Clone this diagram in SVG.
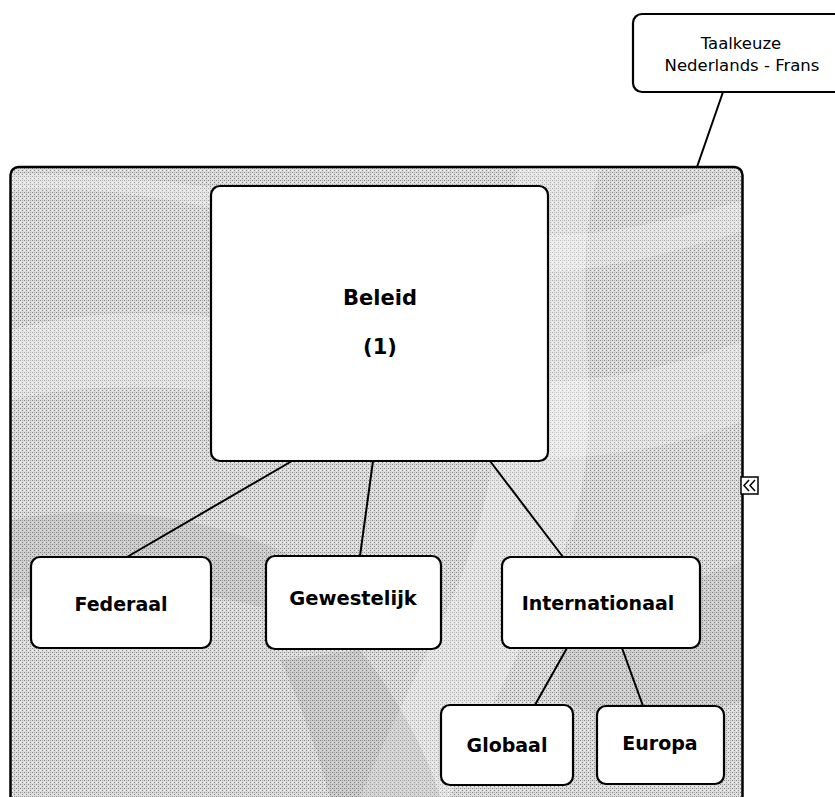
<svg xmlns="http://www.w3.org/2000/svg" width="835" height="797" viewBox="0 0 835 797">
  <style>
    .node rect { fill: #ffffff; stroke: #000000; stroke-width: 2.2; }
    .lbl { font-family: "DejaVu Sans", Verdana, sans-serif; font-weight: bold; fill: #000; text-anchor: middle; }
    .note { font-family: "DejaVu Sans", Verdana, sans-serif; font-size: 16.5px; fill: #000; text-anchor: middle; }
    .conn line { stroke: #000; stroke-width: 2; }
  </style>
  <defs>
    <pattern id="dither" width="4" height="4" patternUnits="userSpaceOnUse">
      <rect width="4" height="4" fill="#dcdcdc"/>
      <rect x="0" y="0" width="1" height="1" fill="#8a8a8a"/>
      <rect x="2" y="2" width="1" height="1" fill="#8a8a8a"/>
      <rect x="2" y="0" width="1" height="1" fill="#b0b0b0"/>
      <rect x="0" y="2" width="1" height="1" fill="#f4f4f4"/>
    </pattern>
    <clipPath id="frameClip">
      <rect x="10.5" y="167" width="732" height="660" rx="8"/>
    </clipPath>
  </defs>
  <rect width="835" height="797" fill="#ffffff"/>

  <!-- background frame -->
  <g id="frame">
    <rect x="10.5" y="167" width="732" height="660" rx="8" fill="url(#dither)"/>
    <g clip-path="url(#frameClip)">
      <path d="M10 330 C 120 300, 260 310, 400 360 C 520 400, 640 380, 745 340 L 745 420 C 620 470, 480 470, 340 420 C 220 380, 100 380, 10 400 Z" fill="#ffffff" opacity="0.25"/>
      <path d="M600 167 C 560 300, 620 420, 560 560 C 520 660, 470 740, 450 797 L 360 797 C 400 700, 460 600, 480 520 C 520 380, 480 260, 520 167 Z" fill="#ffffff" opacity="0.3"/>
      <path d="M10 190 C 150 180, 300 230, 420 260 C 540 290, 650 260, 745 230 L 745 200 C 640 230, 540 250, 420 225 C 300 200, 150 170, 10 175 Z" fill="#ffffff" opacity="0.25"/>
      <path d="M10 520 C 120 500, 220 520, 300 560 L 300 620 C 220 590, 120 580, 10 600 Z" fill="#606060" opacity="0.12"/>
      <path d="M560 640 C 620 600, 700 580, 745 560 L 745 700 C 690 720, 620 730, 560 700 Z" fill="#606060" opacity="0.1"/>
      <path d="M360 650 C 400 700, 430 760, 440 797 L 330 797 C 320 760, 300 700, 280 660 Z" fill="#505050" opacity="0.12"/>
    </g>
    <rect x="10.5" y="167" width="732" height="660" rx="8" fill="none" stroke="#000" stroke-width="2.5"/>
  </g>

  <!-- collapse icon -->
  <g id="collapse-icon">
    <rect x="741" y="477" width="17" height="17" fill="#ffffff" stroke="#000" stroke-width="1.5"/>
    <polyline points="749,480 744,485.5 749,491" fill="none" stroke="#000" stroke-width="1.5"/>
    <polyline points="755,480 750,485.5 755,491" fill="none" stroke="#000" stroke-width="1.5"/>
  </g>

  <!-- connectors -->
  <g id="connectors" class="conn">
    <line x1="723" y1="92" x2="697" y2="167"/>
    <line x1="292" y1="461" x2="127" y2="557"/>
    <line x1="373" y1="461" x2="360" y2="556"/>
    <line x1="490" y1="461" x2="563" y2="557"/>
    <line x1="567" y1="648" x2="535" y2="705"/>
    <line x1="622" y1="648" x2="643" y2="706"/>
  </g>

  <!-- nodes -->
  <g id="taalkeuze" class="node">
    <rect x="633" y="14" width="222" height="78" rx="9"/>
    <text class="note" x="741" y="49">Taalkeuze</text>
    <text class="note" x="742" y="71">Nederlands - Frans</text>
  </g>

  <g id="beleid" class="node">
    <rect x="211" y="186" width="337" height="275" rx="9"/>
    <text class="lbl" x="380" y="305" font-size="21">Beleid</text>
    <text class="lbl" x="380" y="354" font-size="21">(1)</text>
  </g>

  <g id="federaal" class="node">
    <rect x="31" y="557" width="180" height="91" rx="9"/>
    <text class="lbl" x="121" y="611" font-size="19">Federaal</text>
  </g>

  <g id="gewestelijk" class="node">
    <rect x="266" y="556" width="175" height="93" rx="9"/>
    <text class="lbl" x="353" y="605" font-size="19.5">Gewestelijk</text>
  </g>

  <g id="internationaal" class="node">
    <rect x="502" y="557" width="198" height="91" rx="9"/>
    <text class="lbl" x="598" y="610" font-size="19">Internationaal</text>
  </g>

  <g id="globaal" class="node">
    <rect x="441" y="705" width="132" height="80" rx="9"/>
    <text class="lbl" x="507" y="752" font-size="19">Globaal</text>
  </g>

  <g id="europa" class="node">
    <rect x="597" y="706" width="127" height="78" rx="9"/>
    <text class="lbl" x="660" y="750" font-size="19">Europa</text>
  </g>
</svg>
